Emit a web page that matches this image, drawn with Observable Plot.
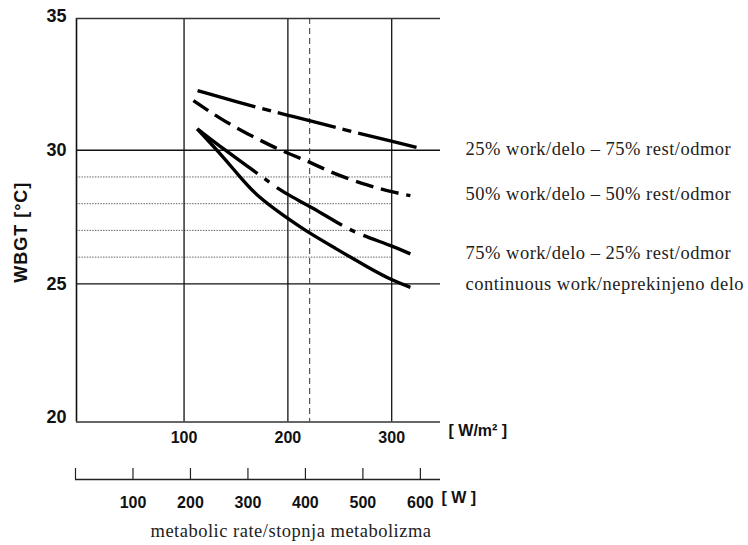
<!DOCTYPE html>
<html><head><meta charset="utf-8">
<script src="https://cdn.jsdelivr.net/npm/d3@7"></script>
<script src="https://cdn.jsdelivr.net/npm/@observablehq/plot@0.6"></script>
<style>
body{margin:0;background:#fff;}
#chart svg{display:block;}
</style></head><body><div id="chart"></div>
<script>
// ---- data ----
const rateDomain = [-3.6, 347];          // W/m²
const wbgtDomain = [19.83, 34.93];       // °C
const rateGrid = [100, 200, 300];
const wbgtTicks = [20, 25, 30, 35];
const solidLevels = [25, 30];
const dottedLevels = [26, 27, 28, 29];
const dottedEnd = 300;
const referenceRate = 221;

const wDomain = [0, 635];
const wTicks = [0, 100, 200, 300, 400, 500, 600];
const wLabels = [100, 200, 300, 400, 500, 600];

const seriesNames = [
  "25% work/delo – 75% rest/odmor",
  "50% work/delo – 50% rest/odmor",
  "75% work/delo – 25% rest/odmor",
  "continuous work/neprekinjeno delo"
];
const rate25 = [113, 175, 201, 222, 264, 301, 330];
const wbgt25 = [32.23, 31.55, 31.30, 31.10, 30.67, 30.33, 30.05];
const rate50 = [109, 135, 161, 190, 203, 220, 244, 277, 301, 318];
const wbgt50 = [31.86, 31.17, 30.61, 30.05, 29.84, 29.58, 29.12, 28.68, 28.43, 28.30];
const rate75 = [112.7, 140, 162.4, 173.7, 188.2, 204.3, 222, 252, 268, 301, 318];
const wbgt75 = [30.80, 29.99, 29.36, 29.05, 28.62, 28.24, 27.89, 27.18, 26.87, 26.41, 26.12];
const rate100 = [112.7, 133.6, 152.8, 171, 198, 207.5, 222, 244, 277, 301, 318];
const wbgt100 = [30.80, 29.93, 29.05, 28.25, 27.5, 27.25, 26.87, 26.37, 25.62, 25.12, 24.87];
const labelWbgt = [30.05, 28.35, 26.15, 25.0];

const xAxisUnit = "[ W/m² ]";
const wAxisUnit = "[ W ]";
const yTitle = "WBGT [°C]";
const caption = "metabolic rate/stopnja metabolizma";

// ---- build ----
const toRows = (xs, ys) => xs.map((x, i) => ({x, y: ys[i]}));
const lines = [
  {rows: toRows(rate25, wbgt25), dash: "60,7,9,7"},
  {rows: toRows(rate50, wbgt50), dash: "18,8"},
  {rows: toRows(rate75, wbgt75), dash: "75,9,6,9"},
  {rows: toRows(rate100, wbgt100), dash: null}
];
const labels = seriesNames.map((name, i) => ({name, y: labelWbgt[i]}));

const sans = "'Liberation Sans', Arial, sans-serif";
const serif = "'Liberation Serif', 'Times New Roman', serif";

const main = Plot.plot({
  width: 748, height: 455,
  marginTop: 18, marginLeft: 76, marginRight: 308, marginBottom: 33.5,
  style: {fontFamily: sans, color: "#111", background: "#fff", overflow: "visible"},
  x: {domain: rateDomain},
  y: {domain: wbgtDomain},
  marks: [
    Plot.ruleY(dottedLevels, {x1: rateDomain[0], x2: dottedEnd, stroke: "#666", strokeWidth: 1, strokeDasharray: "1.5,1.2"}),
    Plot.ruleY(solidLevels, {stroke: "#111", strokeWidth: 1.3}),
    Plot.ruleX(rateGrid, {stroke: "#111", strokeWidth: 1.3}),
    Plot.ruleX([referenceRate], {stroke: "#333", strokeWidth: 1, strokeDasharray: "6,4"}),
    Plot.ruleX([rateDomain[0]], {stroke: "#111", strokeWidth: 1.6}),
    Plot.ruleY([wbgtDomain[0], wbgtDomain[1]], {stroke: "#333", strokeWidth: 1.6}),
    ...lines.map(l => Plot.line(l.rows, {x: "x", y: "y", stroke: "#000", strokeWidth: 3.4, curve: "basis", strokeDasharray: l.dash, strokeLinecap: "butt"})),
    Plot.axisX({ticks: rateGrid, tickSize: 0, tickPadding: 10, fontSize: 16, fontWeight: "bold", label: null}),
    Plot.axisY({ticks: wbgtTicks, tickSize: 0, tickPadding: 10, fontSize: 18, fontWeight: "bold", label: null}),
    Plot.text([xAxisUnit], {frameAnchor: "bottom-right", text: d => d, dx: 8, dy: 14, textAnchor: "start", fontSize: 16, fontWeight: "bold", fill: "#111"}),
    Plot.text([yTitle], {frameAnchor: "left", text: d => d, rotate: -90, dx: -55, dy: 12, textAnchor: "middle", fontSize: 18, fontWeight: "bold", fill: "#111"}),
    Plot.text(labels, {frameAnchor: "right", y: "y", text: "name", dx: 25, textAnchor: "start", fontFamily: serif, fontSize: 18.5, fill: "#222"})
  ]
});

const waxis = Plot.plot({
  width: 748, height: 90,
  marginTop: 13, marginLeft: 75, marginRight: 308, marginBottom: 66,
  style: {fontFamily: sans, color: "#111", background: "#fff", overflow: "visible"},
  x: {domain: wDomain},
  y: {domain: [0, 1], axis: null},
  marks: [
    Plot.ruleY([0], {stroke: "#222", strokeWidth: 1.3}),
    Plot.ruleX(wTicks, {y1: 0, y2: 1, stroke: "#222", strokeWidth: 1.2}),
    Plot.axisX({ticks: wLabels, tickSize: 0, tickPadding: 17, fontSize: 16, fontWeight: "bold", label: null}),
    Plot.text([wAxisUnit], {frameAnchor: "bottom-right", text: d => d, dx: 1, dy: 23, textAnchor: "start", fontSize: 16, fontWeight: "bold", fill: "#111"}),
    Plot.text([caption], {frameAnchor: "bottom-left", text: d => d, dx: 75, dy: 57, textAnchor: "start", fontFamily: serif, fontSize: 18.5, fill: "#222"})
  ]
});

const root = document.getElementById("chart");
root.append(main, waxis);
root.querySelectorAll('[font-family*="Serif"]').forEach(g => g.setAttribute("letter-spacing", "0.5"));
root.querySelectorAll('text').forEach(t => { if (t.textContent === yTitle) t.setAttribute("letter-spacing", "1"); });
</script></body></html>
